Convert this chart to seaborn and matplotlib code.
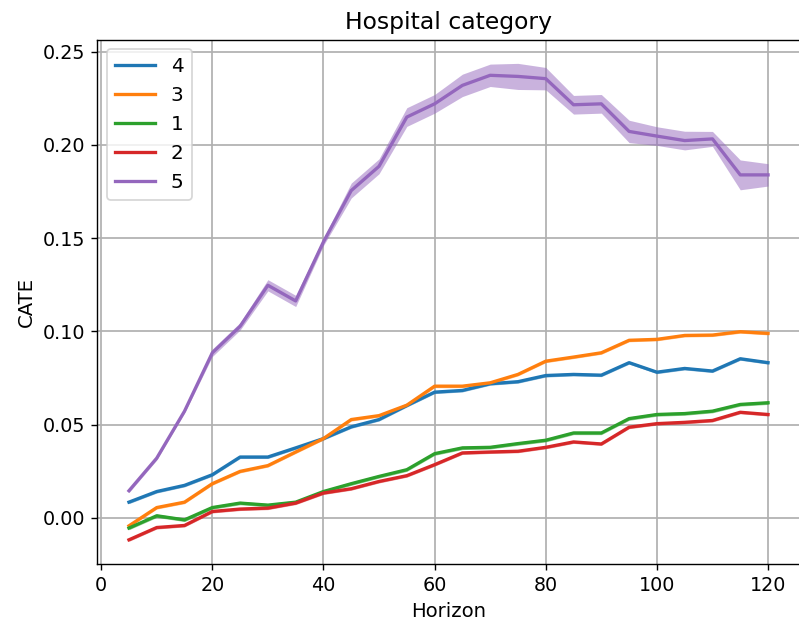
import numpy as np
import pandas as pd
import matplotlib
matplotlib.use("Agg")
import matplotlib.pyplot as plt
import seaborn as sns

horizon = list(range(5, 125, 5))
categories = ["4", "3", "1", "2", "5"]

cate_4 = [0.0084, 0.0141, 0.0174, 0.0231, 0.0326, 0.0326, 0.0375, 0.0425, 0.0488, 0.0527, 0.0602, 0.0674,
          0.0683, 0.0719, 0.0730, 0.0763, 0.0769, 0.0765, 0.0832, 0.0781, 0.0801, 0.0787, 0.0853, 0.0832]
cate_3 = [-0.0043, 0.0055, 0.0084, 0.0183, 0.0249, 0.0280, 0.0353, 0.0425, 0.0527, 0.0548, 0.0604, 0.0706,
          0.0706, 0.0724, 0.0769, 0.0840, 0.0862, 0.0885, 0.0952, 0.0957, 0.0978, 0.0980, 0.0998, 0.0989]
cate_1 = [-0.0055, 0.0011, -0.0011, 0.0055, 0.0079, 0.0068, 0.0084, 0.0141, 0.0183, 0.0222, 0.0258, 0.0344,
          0.0375, 0.0378, 0.0398, 0.0416, 0.0455, 0.0455, 0.0532, 0.0554, 0.0559, 0.0572, 0.0608, 0.0617]
cate_2 = [-0.0118, -0.0052, -0.0041, 0.0034, 0.0047, 0.0052, 0.0079, 0.0133, 0.0156, 0.0195, 0.0226, 0.0285,
          0.0348, 0.0353, 0.0357, 0.0378, 0.0407, 0.0396, 0.0486, 0.0505, 0.0512, 0.0522, 0.0566, 0.0554]
cate_5 = [0.0145, 0.0320, 0.0572, 0.0885, 0.1027, 0.1247, 0.1163, 0.1480, 0.1755, 0.1885, 0.2149, 0.2220,
          0.2319, 0.2373, 0.2367, 0.2355, 0.2215, 0.2220, 0.2072, 0.2047, 0.2023, 0.2032, 0.1839, 0.1839]

half_4 = [0.0008] * 24
half_3 = [0.0008] * 24
half_1 = [0.0009] * 24
half_2 = [0.0008] * 24
half_5 = [0.001, 0.001, 0.001, 0.002, 0.002, 0.003, 0.003, 0.002, 0.004, 0.004, 0.005, 0.005,
          0.006, 0.006, 0.007, 0.006, 0.005, 0.005, 0.006, 0.005, 0.005, 0.004, 0.008, 0.006]

series = {"4": (cate_4, half_4), "3": (cate_3, half_3), "1": (cate_1, half_1),
          "2": (cate_2, half_2), "5": (cate_5, half_5)}

rows = []
for c in categories:
    vals, _ = series[c]
    for h, v in zip(horizon, vals):
        rows.append({"Horizon": h, "CATE": v, "category": c})
df = pd.DataFrame(rows)

palette = dict(zip(categories, sns.color_palette("tab10", 5)))

fig = plt.figure(figsize=(799 / 125, 628 / 125), dpi=125)
ax = fig.add_axes([97 / 799, 1 - 563.5 / 628, (800 - 97) / 799, (563.5 - 39.5) / 628])
ax.grid(True, color="#b0b0b0", linewidth=1.0)
ax.set_axisbelow(True)

for c in categories:
    vals, half = series[c]
    lo = np.array(vals) - np.array(half)
    hi = np.array(vals) + np.array(half)
    ax.fill_between(horizon, lo, hi, color=palette[c], alpha=0.5, linewidth=0)

sns.lineplot(data=df, x="Horizon", y="CATE", hue="category", hue_order=categories,
             palette=palette, ax=ax, linewidth=1.9)

ax.set_title("Hospital category", fontsize=13.5)
ax.set_xlabel("Horizon", fontsize=11.3)
ax.set_ylabel("CATE", fontsize=11.3)
ax.set_xticks([0, 20, 40, 60, 80, 100, 120])
ax.set_yticks([0.0, 0.05, 0.10, 0.15, 0.20, 0.25])
ax.tick_params(labelsize=11)
ax.set_xlim(-0.75, 125.75)
ax.set_ylim(-0.0245, 0.2565)
ax.legend(loc="upper left", fontsize=11.5, title=None)

fig.savefig("out.png", dpi=125)
